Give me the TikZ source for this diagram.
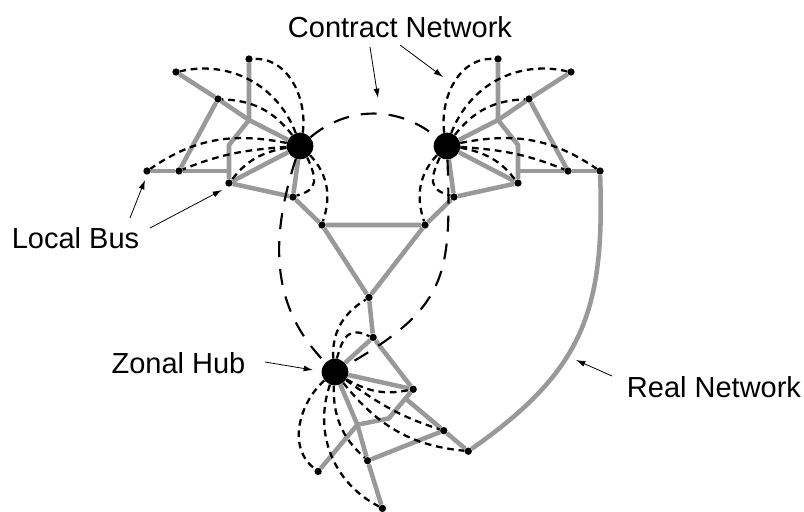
\documentclass[tikz,border=0pt]{standalone}
\usepackage{fontspec}
\setmainfont{Liberation Sans}
\usetikzlibrary{arrows.meta}
\tikzset{
  hub/.style={circle,fill=black,inner sep=0pt,minimum size=20pt},
  bus/.style={circle,fill=black,inner sep=0pt,minimum size=5.5pt},
  real/.style={line width=3.4pt,black!40,line join=round},
  local/.style={line width=1.7pt,dash pattern=on 5pt off 3.6pt},
  contract/.style={line width=1.6pt,dash pattern=on 12pt off 9pt},
  note/.style={line width=0.6pt,-{Latex[length=7pt,width=4.5pt]}},
  lbl/.style={font=\fontsize{21.75}{26}\selectfont,inner sep=0pt,anchor=base},
  bendR/.style 2 args={relative,out=-#1,in=180+#2},
  bendL/.style 2 args={relative,out=#1,in=180-#2}
}
\newcommand\hubzone[6]{%
  \begin{scope}[shift={#2},rotate=#3,xscale=#4]
    \node[hub] (#1) at (0,0) {};
    \node[bus] (#1a) at (-51,87) {};
    \node[bus] (#1b) at (-124,74) {};
    \node[bus] (#1c) at (-82,47) {};
    \coordinate (#1d) at (-51,26);
    \coordinate (#1e) at (-71,1);
    \coordinate (#1f) at (-71,-25);
    \node[bus] (#1g) at (-71,-37) {};
    \node[bus] (#1h) at (-121,-25) {};
    \node[bus] (#1i) at (-153,-25) {};
    \node[bus] (#1j) at (-7,-51) {};
    \node[bus] (#1k) at (22,-79) {};
  \end{scope}
  \draw[real] (#1b) -- (#1c) -- (#1d) -- (#1);
  \draw[real] (#1a) -- (#1d) -- (#1e) -- (#1g) -- (#1);
  \draw[real] (#1i) -- (#1h) -- (#1f);
  \draw[real] (#1h) -- (#1c);
  \draw[real] (#1) -- (#1j) -- (#1g);
  \draw[real] (#1j) -- (#1k);
  \draw[local] (#1) to[#5={42}{60}] (#1a);
  \draw[local] (#1) to[#5={41}{41}] (#1b);
  \draw[local] (#1) to[#5={25}{25}] (#1c);
  \draw[local] (#1) to[#5={20}{22}] (#1g);
  \draw[local] (#1) to[#5={8}{10}] (#1h);
  \draw[local] (#1) to[#5={22}{24}] (#1i);
  \draw[local] (#1) to[#6={40}{60},looseness=1.5] (#1j);
  \draw[local] (#1) to[#6={32}{30}] (#1k);
}

\begin{document}
\begin{tikzpicture}[x=0.75pt,y=0.75pt]
  \useasboundingbox (0,0) rectangle (804,-511);
  \hubzone{lh}{(300,-146)}{0}{1}{bendR}{bendL}
  \hubzone{rh}{(447,-146)}{0}{-1}{bendL}{bendR}
  \hubzone{zh}{(335,-372)}{140}{1}{bendR}{bendL}
  \draw[real] (lhk) -- (rhk) -- (zhk) -- (lhk);
  \draw[real] (rhi) to[out=-88,in=35,looseness=1.15] (zhi);
  \draw[contract] (lh) to[bend left=40] (rh);
  \draw[contract] (lh) to[out=-108,in=135] (zh);
  \draw[contract] (rh) to[out=-88,in=30,looseness=1.3] (zh);

  \node[lbl] (cn) at (400,-37) {Contract Network};
  \node[lbl] (lb) at (75.5,-248) {Local Bus};
  \node[lbl] (zn) at (178.5,-373) {Zonal Hub};
  \node[lbl] (rn) at (714,-397) {Real Network};

  \coordinate (cn1) at (370,-47);  \coordinate (cn1t) at (378,-98);
  \coordinate (cn2) at (400,-45);  \coordinate (cn2t) at (443,-77);
  \coordinate (lb1) at (130,-218); \coordinate (lb1t) at (145,-180);
  \coordinate (lb2) at (150,-228); \coordinate (lb2t) at (222,-190);
  \coordinate (zn1) at (265,-362); \coordinate (zn1t) at (313,-370);
  \coordinate (rn1) at (612,-376); \coordinate (rn1t) at (576,-360);
  \draw[note] (cn1) -- (cn1t);
  \draw[note] (cn2) -- (cn2t);
  \draw[note] (lb1) -- (lb1t);
  \draw[note] (lb2) -- (lb2t);
  \draw[note] (zn1) -- (zn1t);
  \draw[note] (rn1) -- (rn1t);
\end{tikzpicture}
\end{document}
